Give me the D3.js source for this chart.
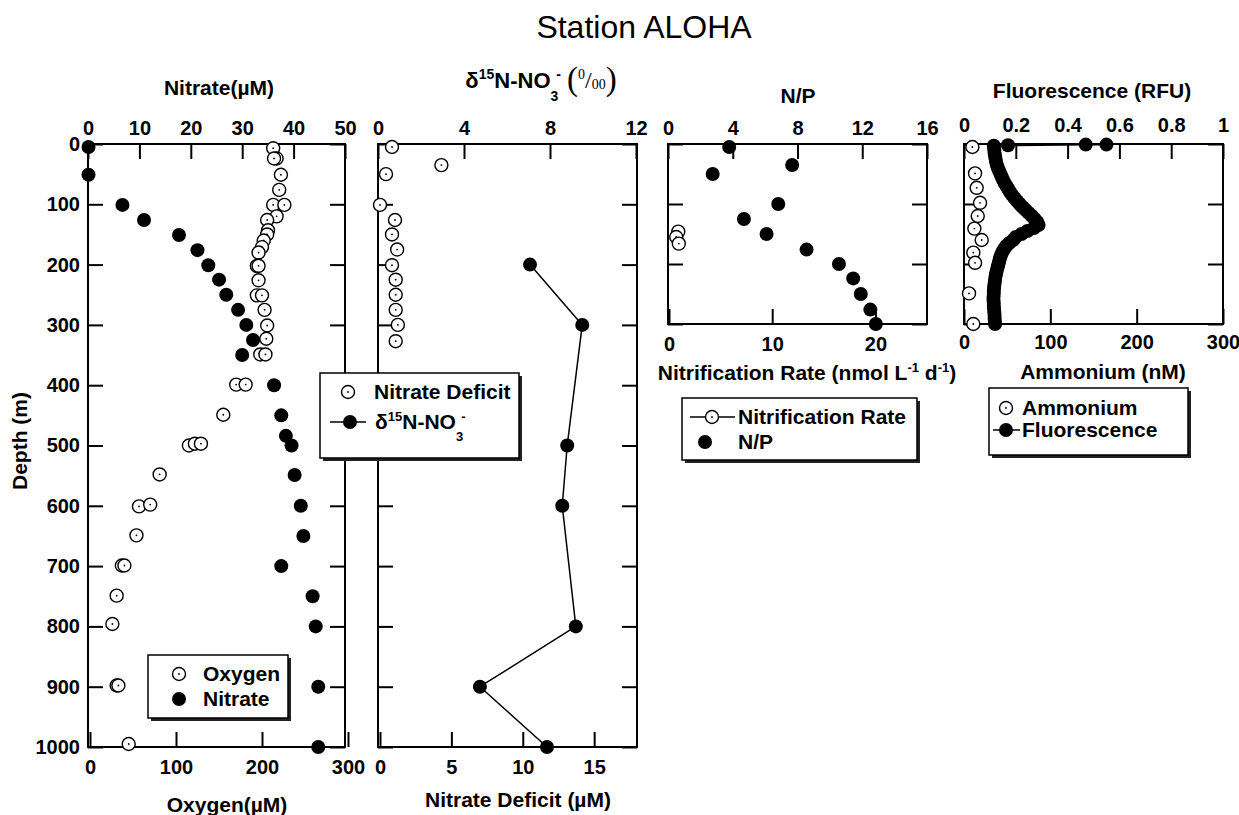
<!DOCTYPE html>
<html lang="en">
<head>
<meta charset="UTF-8">
<title>Station ALOHA</title>
<script src="https://d3js.org/d3.v7.min.js"></script>
<style>
  body { margin: 0; background: #fff; }
  svg { font-family: "Liberation Sans", Arial, sans-serif; font-weight: bold; }
  .tick text { font-size: 20px; font-family: "Liberation Sans", Arial, sans-serif; font-weight: bold; fill: #000; }
  .tick line { stroke: #000; stroke-width: 2px; }
  .box { fill: none; stroke: #000; stroke-width: 2px; }
  .lab { font-size: 21px; fill: #000; }
</style>
</head>
<body>
<div id="chart"></div>
<script>
// ---- data ----
// panel 1: oxygen (bottom axis) and nitrate (top axis) vs depth
const oxygenDepth = [7, 24, 24, 51, 76, 101, 101, 120, 126, 143, 150, 160, 171, 180, 202, 202, 226, 251, 251, 275, 301, 323, 349, 349, 399, 399, 449, 500, 497, 497, 548, 601, 598, 649, 699, 699, 749, 796, 898, 898, 995];
const oxygenValue = [213, 217, 214, 222, 220, 213, 226, 217, 206, 207, 206, 202, 200, 196, 194, 196, 196, 194, 200, 203, 206, 205, 198, 204, 170, 181, 155, 115, 122, 129, 81, 57, 70, 54, 37, 40, 31, 26, 31, 33, 45];
const nitrateDepth = [5, 51, 101, 126, 151, 176, 201, 225, 250, 275, 300, 325, 350, 400, 450, 484, 500, 549, 600, 650, 700, 750, 800, 900, 1000];
const nitrateValue = [0.1, 0.1, 6.7, 10.9, 17.7, 21.3, 23.4, 25.5, 26.9, 29.2, 30.8, 32.1, 30.0, 36.2, 37.6, 38.5, 39.6, 40.2, 41.4, 41.9, 37.6, 43.7, 44.3, 44.8, 44.8];

// panel 2: nitrate deficit (bottom) and d15N-NO3 (top)
const deficitDepth = [5, 35, 50, 101, 126, 150, 175, 201, 225, 250, 275, 300, 327];
const deficitValue = [0.84, 4.3, 0.42, 0, 1.05, 0.84, 1.2, 0.84, 1.1, 1.1, 1.1, 1.25, 1.1];
const d15nDepth = [200, 300, 500, 600, 800, 900, 1000];
const d15nValue = [7.07, 9.5, 8.8, 8.57, 9.2, 4.74, 7.86];

// panel 3: N/P (top) and nitrification rate (bottom)
const npDepth = [5, 35, 50, 100, 125, 150, 176, 200, 224, 250, 276, 300];
const npValue = [3.78, 7.67, 2.76, 6.81, 4.69, 6.09, 8.56, 10.56, 11.44, 11.91, 12.5, 12.84];
const nitrifDepth = [146, 155, 166];
const nitrifValue = [0.9, 0.7, 0.95];

// panel 4: ammonium (bottom) and fluorescence (top)
const ammoniumDepth = [5, 49, 73, 98, 120, 141, 160, 181, 198, 249, 300];
const ammoniumValue = [9.7, 12.8, 14.7, 18.6, 15.9, 12, 20.5, 10.8, 12.8, 5.8, 10.8];
const fluorDepth = [1, 1, 2, 3, 5, 10, 15, 20, 25, 30, 35, 40, 45, 50, 55, 60, 65, 70, 75, 80, 85, 90, 95, 100,
  105, 110, 115, 120, 125, 130, 135, 140, 145, 150, 155, 160, 165, 170, 175, 180, 185, 190, 195, 200,
  205, 210, 215, 220, 225, 230, 235, 240, 245, 250, 255, 260, 265, 270, 275, 280, 285, 290, 295, 300];
const fluorValue = [0.55, 0.47, 0.17, 0.115, 0.116, 0.117, 0.118, 0.12, 0.122, 0.124, 0.127, 0.131, 0.136, 0.141, 0.146, 0.151, 0.157, 0.164, 0.171, 0.178, 0.186, 0.195, 0.205, 0.215,
  0.226, 0.238, 0.25, 0.262, 0.273, 0.283, 0.288, 0.27, 0.245, 0.222, 0.2, 0.19, 0.175, 0.163, 0.155, 0.148, 0.143, 0.139, 0.136, 0.133,
  0.13, 0.127, 0.124, 0.122, 0.12, 0.119, 0.117, 0.116, 0.115, 0.115, 0.114, 0.114, 0.115, 0.115, 0.116, 0.117, 0.118, 0.118, 0.119, 0.12];

// tick labels
const depthTicksLong = [0, 100, 200, 300, 400, 500, 600, 700, 800, 900, 1000];
const depthTicksShort = [0, 100, 200, 300];
const nitrateTicks = [0, 10, 20, 30, 40, 50];
const oxygenTicks = [0, 100, 200, 300];
const d15nTicks = [0, 4, 8, 12];
const deficitTicks = [0, 5, 10, 15];
const npTicks = [0, 4, 8, 12, 16];
const nitrifTicks = [0, 10, 20];
const fluorTicks = [0, 0.2, 0.4, 0.6, 0.8, 1];
const ammoniumTicks = [0, 100, 200, 300];

// ---- layout ----
const svg = d3.select("#chart").append("svg")
  .attr("width", 1239).attr("height", 815);

const P1 = { l: 88, r: 345, t: 144, b: 747 };
const P2 = { l: 378, r: 637, t: 144, b: 747 };
const P3 = { l: 668, r: 927, t: 144, b: 324 };
const P4 = { l: 964, r: 1223, t: 144, b: 324 };

const yLong = d3.scaleLinear().domain([0, 1000]).range([P1.t, P1.b]);
const yShort = d3.scaleLinear().domain([0, 300]).range([P3.t, P3.b]);

const xNitrate = d3.scaleLinear().domain([0, 50]).range([P1.l, P1.r]);
const xOxygen = d3.scaleLinear().domain([0, 300]).range([90, 348]);
const xD15n = d3.scaleLinear().domain([0, 12]).range([P2.l, 636]);
const xDeficit = d3.scaleLinear().domain([0, 18]).range([380, P2.r]);
const xNP = d3.scaleLinear().domain([0, 16]).range([P3.l, P3.r]);
const xNitrif = d3.scaleLinear().domain([0, 25]).range([669, P3.r]);
const xFluor = d3.scaleLinear().domain([0, 1]).range([P4.l, P4.r]);
const xAmm = d3.scaleLinear().domain([0, 300]).range([P4.l, P4.r]);

const fmt = d => String(d);

function axis(gen, scale, ticks, transform, pad, labels) {
  const a = gen(scale).tickValues(ticks).tickSizeInner(-15).tickSizeOuter(0).tickPadding(pad)
    .tickFormat(labels ? fmt : "");
  const g = svg.append("g").attr("transform", transform).call(a);
  g.select(".domain").remove();
  return g;
}

function box(p) {
  svg.append("rect").attr("class", "box")
    .attr("x", p.l).attr("y", p.t).attr("width", p.r - p.l).attr("height", p.b - p.t);
}

function openDots(xs, ys, depth, value, r) {
  const g = svg.append("g");
  depth.forEach((d, i) => {
    g.append("circle").attr("cx", xs(value[i])).attr("cy", ys(d)).attr("r", r || 6.5)
      .attr("fill", "#fff").attr("stroke", "#000").attr("stroke-width", 1.4);
    g.append("circle").attr("cx", xs(value[i])).attr("cy", ys(d)).attr("r", 0.9).attr("fill", "#000");
  });
}

function filledDots(xs, ys, depth, value, r) {
  svg.append("g").selectAll("circle").data(depth).join("circle")
    .attr("cx", (d, i) => xs(value[i])).attr("cy", d => ys(d)).attr("r", r || 7).attr("fill", "#000");
}

function lineThrough(xs, ys, depth, value, w) {
  const pts = depth.map((d, i) => [xs(value[i]), ys(d)]);
  svg.append("path").attr("d", d3.line()(pts)).attr("fill", "none")
    .attr("stroke", "#000").attr("stroke-width", w || 1.5);
}

function label(text, x, y, size, anchor) {
  return svg.append("text").attr("class", "lab").attr("x", x).attr("y", y)
    .attr("text-anchor", anchor || "middle").style("font-size", (size || 21) + "px").text(text);
}

// ---- title ----
svg.append("text").attr("x", 644).attr("y", 38).attr("text-anchor", "middle")
  .style("font-weight", "normal").style("font-size", "32px").text("Station ALOHA");

// ---- panel 1 ----
box(P1);
axis(d3.axisTop, xNitrate, nitrateTicks, `translate(0,${P1.t})`, 9, true);
axis(d3.axisBottom, xOxygen, oxygenTicks, `translate(0,${P1.b})`, 13, true);
axis(d3.axisLeft, yLong, depthTicksLong, `translate(${P1.l},0)`, 8, true);
axis(d3.axisRight, yLong, depthTicksLong, `translate(${P1.r},0)`, 8, false);
openDots(xOxygen, yLong, oxygenDepth, oxygenValue);
filledDots(xNitrate, yLong, nitrateDepth, nitrateValue);
label("Nitrate(µM)", 219, 95);
label("Oxygen(µM)", 227, 812);
svg.append("text").attr("class", "lab").attr("text-anchor", "middle")
  .attr("transform", "translate(27,441) rotate(-90)").text("Depth (m)");

// ---- panel 2 ----
box(P2);
axis(d3.axisTop, xD15n, d15nTicks, `translate(0,${P2.t})`, 9, true);
axis(d3.axisBottom, xDeficit, deficitTicks, `translate(0,${P2.b})`, 13, true);
axis(d3.axisLeft, yLong, depthTicksLong, `translate(${P2.l},0)`, 8, false);
axis(d3.axisRight, yLong, depthTicksLong, `translate(${P2.r},0)`, 8, false);
openDots(xDeficit, yLong, deficitDepth, deficitValue);
lineThrough(xD15n, yLong, d15nDepth, d15nValue, 1.5);
filledDots(xD15n, yLong, d15nDepth, d15nValue);
label("Nitrate Deficit (µM)", 518, 807);

// d15N title with super/subscripts and a per-mil sign
const t2 = svg.append("text").attr("class", "lab").attr("x", 541).attr("y", 88)
  .attr("text-anchor", "middle").style("font-size", "22px");
t2.append("tspan").text("δ");
t2.append("tspan").attr("dy", -9).style("font-size", "14px").text("15");
t2.append("tspan").attr("dy", 9).text("N-NO");
t2.append("tspan").attr("dy", 13).style("font-size", "14px").text("3");
t2.append("tspan").attr("dy", -22).attr("dx", -2).style("font-size", "14px").text("-");
const serif = sel => sel.style("font-family", "'Liberation Serif', 'Times New Roman', serif").style("font-weight", "normal");
serif(t2.append("tspan").attr("dy", 11).attr("dx", 6).style("font-size", "33px").text("("));
serif(t2.append("tspan").attr("dy", -11).style("font-size", "14px").text("0"));
serif(t2.append("tspan").attr("dy", 9).style("font-size", "24px").text("/"));
serif(t2.append("tspan").attr("dy", 1).style("font-size", "14px").text("00"));
serif(t2.append("tspan").attr("dy", 1).style("font-size", "33px").text(")"));

// ---- panel 3 ----
box(P3);
axis(d3.axisTop, xNP, npTicks, `translate(0,${P3.t})`, 9, true);
axis(d3.axisBottom, xNitrif, nitrifTicks, `translate(0,${P3.b})`, 13, true);
axis(d3.axisLeft, yShort, depthTicksShort, `translate(${P3.l},0)`, 8, false);
axis(d3.axisRight, yShort, depthTicksShort, `translate(${P3.r},0)`, 8, false);
lineThrough(xNitrif, yShort, nitrifDepth, nitrifValue, 1);
openDots(xNitrif, yShort, nitrifDepth, nitrifValue);
filledDots(xNP, yShort, npDepth, npValue);
label("N/P", 798, 103);
const t3 = label("", 807, 380);
t3.append("tspan").text("Nitrification Rate (nmol L");
t3.append("tspan").attr("dy", -8).style("font-size", "13px").text("-1");
t3.append("tspan").attr("dy", 8).text(" d");
t3.append("tspan").attr("dy", -8).style("font-size", "13px").text("-1");
t3.append("tspan").attr("dy", 8).text(")");

// ---- panel 4 ----
box(P4);
axis(d3.axisTop, xFluor, fluorTicks, `translate(0,${P4.t})`, 12, true);
axis(d3.axisBottom, xAmm, ammoniumTicks, `translate(0,${P4.b})`, 11, true);
axis(d3.axisLeft, yShort, depthTicksShort, `translate(${P4.l},0)`, 8, false);
axis(d3.axisRight, yShort, depthTicksShort, `translate(${P4.r},0)`, 8, false);
openDots(xAmm, yShort, ammoniumDepth, ammoniumValue);
lineThrough(xFluor, yShort, fluorDepth, fluorValue, 2);
filledDots(xFluor, yShort, fluorDepth, fluorValue);
label("Fluorescence (RFU)", 1092, 98);
label("Ammonium (nM)", 1103, 379);

// ---- legends ----
function legendBox(x, y, w, h) {
  svg.append("rect").attr("x", x + 3).attr("y", y + 3).attr("width", w).attr("height", h).attr("fill", "#222");
  svg.append("rect").attr("x", x).attr("y", y).attr("width", w).attr("height", h)
    .attr("fill", "#fff").attr("stroke", "#000").attr("stroke-width", 1.5);
}
function legOpen(cx, cy) {
  svg.append("circle").attr("cx", cx).attr("cy", cy).attr("r", 6.5)
    .attr("fill", "#fff").attr("stroke", "#000").attr("stroke-width", 1.4);
  svg.append("circle").attr("cx", cx).attr("cy", cy).attr("r", 0.9).attr("fill", "#000");
}
function legFilled(cx, cy) {
  svg.append("circle").attr("cx", cx).attr("cy", cy).attr("r", 7).attr("fill", "#000");
}
function legLine(x1, x2, y) {
  svg.append("line").attr("x1", x1).attr("x2", x2).attr("y1", y).attr("y2", y)
    .attr("stroke", "#000").attr("stroke-width", 1.5);
}

// legend 1
legendBox(148, 655, 140, 63);
legOpen(179, 674);
label("Oxygen", 203, 681, 21, "start");
legFilled(179, 699);
label("Nitrate", 203, 706, 21, "start");

// legend 2
legendBox(320, 373, 199, 85);
legOpen(348, 392);
label("Nitrate Deficit", 374, 399, 21, "start");
legLine(330, 366, 422);
legFilled(350, 422);
const l2 = label("", 375, 429, 21, "start");
l2.append("tspan").text("δ");
l2.append("tspan").attr("dy", -8).style("font-size", "13px").text("15");
l2.append("tspan").attr("dy", 8).text("N-NO");
l2.append("tspan").attr("dy", 12).style("font-size", "13px").text("3");
l2.append("tspan").attr("dy", -20).attr("dx", -2).style("font-size", "13px").text("-");

// legend 3
legendBox(682, 398, 235, 62);
legLine(690, 735, 417);
legOpen(712, 417);
label("Nitrification Rate", 738, 424, 21, "start");
legFilled(705, 442);
label("N/P", 738, 449, 21, "start");

// legend 4
legendBox(989, 388, 199, 67);
legOpen(1006, 408);
label("Ammonium", 1022, 415, 21, "start");
legLine(993, 1020, 430);
legFilled(1006, 430);
label("Fluorescence", 1022, 437, 21, "start");
</script>
</body>
</html>
